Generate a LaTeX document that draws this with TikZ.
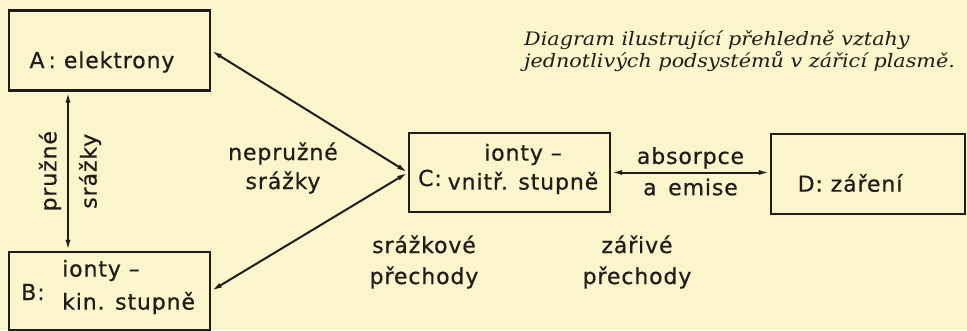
\documentclass[tikz,border=0pt]{standalone}
\usepackage{fontspec}
\setmainfont{DejaVu Sans}[LetterSpace=4, FakeBold=0.6]
\newfontfamily\capfont{DejaVu Serif}[FakeStretch=1.12]
\usetikzlibrary{arrows.meta,positioning,calc}
\definecolor{paper}{RGB}{250,245,202}
\definecolor{ink}{RGB}{32,28,24}
\tikzset{
  box/.style={rectangle, draw=ink, line width=2.2pt, inner sep=0pt},
  lbl/.style={text=ink, inner sep=0pt, align=center, font=\fontsize{22}{29}\selectfont},
  arb/.style={{Latex[length=11pt,width=5pt]}-{Latex[length=11pt,width=5pt]}, draw=ink, line width=2pt}
}
\begin{document}
\begin{tikzpicture}[x=1pt, y=-1pt,
  capt/.style={text=ink, inner sep=0pt, align=left, font=\capfont\itshape\fontsize{18.5}{19.5}\selectfont}
]
\fill[paper] (0,0) rectangle (967,330);
\useasboundingbox (0,0) rectangle (967,330);
% boxes
\node[box, minimum width=201pt, minimum height=80pt] (A) at (109.5,50.5) {};
\node[box, minimum width=201pt, minimum height=78pt] (B) at (109.5,291) {};
\node[box, minimum width=201pt, minimum height=79pt] (C) at (509.5,172.5) {};
\node[box, minimum width=194pt, minimum height=80pt] (D) at (868,174) {};
\coordinate (abx) at (68,0);
% box texts
\node[lbl] (tA) at (102,62) {A\kern4pt: elektrony};
\node[lbl] (tB) at (33,292) {B:};
\node[lbl, align=left, anchor=west, font=\fontsize{22}{33}\selectfont] (tB2) at (62,287) {ionty --\\kin. stupně};
\node[lbl] (tC) at (430,178) {C:};
\node[lbl] (tC2) at (523,169) {ionty --\\vnitř. stupně};
\node[lbl] (tD) at (850,183) {D: záření};
% connectors
\draw[arb] (A.south -| abx) -- (B.north -| abx)
  node[lbl, midway, anchor=south, rotate=90, inner sep=6pt] (pr) {pružné}
  node[lbl, midway, anchor=north, rotate=90, inner sep=10pt] (sr) {srážky};
\draw[arb] (A.east) -- (C.west);
\draw[arb] (B.east) -- (C.west);
\draw[arb] (C.east) -- (C.east -| D.west)
  node[lbl, midway, above=3pt] (ab) {absorpce}
  node[lbl, midway, below=5pt] (em) {a\, emise};
% free labels
\node[lbl] (ns) at (283,168) {nepružné\\srážky};
\node[lbl, font=\fontsize{22}{31}\selectfont] (sp) at (424,262) {srážkové\\přechody};
\node[lbl, font=\fontsize{22}{31}\selectfont] (zp) at (637,262) {zářivé\\přechody};
\node[capt, anchor=north west] (cap) at (524,31) {Diagram ilustrující přehledně vztahy\\jednotlivých podsystémů v zářicí plasmě.};
\end{tikzpicture}
\end{document}
